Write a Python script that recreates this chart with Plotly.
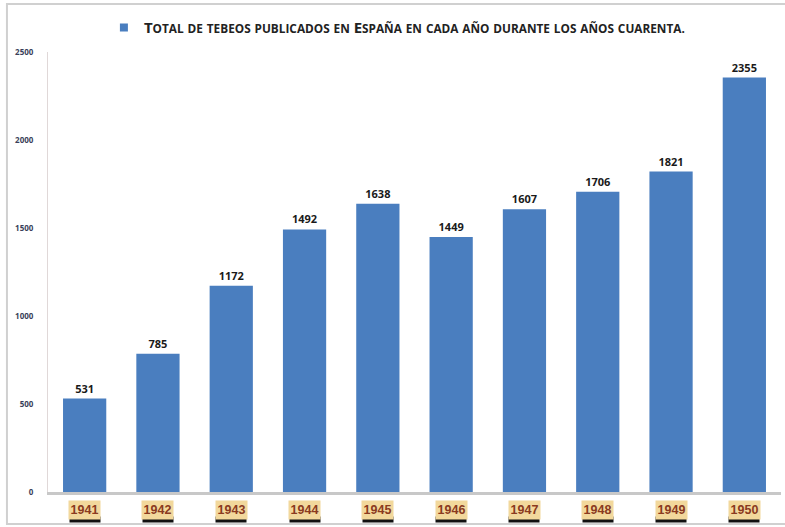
import plotly.graph_objects as go

years = ["1941", "1942", "1943", "1944", "1945", "1946", "1947", "1948", "1949", "1950"]
values = [531, 785, 1172, 1492, 1638, 1449, 1607, 1706, 1821, 2355]
y_ticks = [0, 500, 1000, 1500, 2000, 2500]
title_text = "Total de tebeos publicados en España en cada año durante los años cuarenta."


def small_caps(text, small=11.8):
    out = []
    for ch in text:
        if ch.isupper() or ch == " ":
            out.append(ch)
        else:
            out.append("<span style='font-size:%spx'>%s</span>" % (small, ch.upper()))
    s = "".join(out).replace("</span><span style='font-size:%spx'>" % small, "")
    return "<b>" + s + "</b>"


series_name = small_caps(title_text)
bar_color = "#4a7ebf"

fig = go.Figure()
fig.add_trace(go.Bar(
    x=years, y=values, name=series_name,
    marker=dict(color=bar_color, line=dict(width=0)),
    width=0.59,
    text=["<b>%d</b>" % v for v in values], textposition="outside",
    textfont=dict(family="Open Sans", size=11, color="#1a1a1a"),
    cliponaxis=False, showlegend=False,
))
# legend entry with a small square swatch
fig.add_trace(go.Scatter(
    x=[None], y=[None], mode="markers", name=series_name,
    marker=dict(symbol="square", size=8, color=bar_color), showlegend=True,
))

# tan year labels with dark shadow underneath
for i, yr in enumerate(years):
    fig.add_annotation(x=i, y=0, xref="x", yref="paper", yanchor="top",
                       yshift=-24, text=" ", showarrow=False,
                       bgcolor="#111111", width=30, height=5, borderpad=0,
                       font=dict(size=4))
    fig.add_annotation(x=i, y=0, xref="x", yref="paper", yanchor="top",
                       yshift=-8, text="<b>%s</b>" % yr, showarrow=False,
                       bgcolor="#f2d89c", width=29, height=16, borderpad=1,
                       font=dict(family="Liberation Sans Narrow, Liberation Sans", size=12.5,
                                 color="#8a3a20"))

fig.update_layout(
    width=785, height=527,
    margin=dict(l=48, r=4, t=52, b=35),
    paper_bgcolor="white", plot_bgcolor="white",
    showlegend=True,
    legend=dict(orientation="h", x=0.476, xanchor="center", y=1.055, yanchor="middle",
                font=dict(family="Open Sans", size=15, color="#222222"),
                bgcolor="rgba(0,0,0,0)", itemwidth=30),
    xaxis=dict(type="category", showticklabels=False, showline=True, linecolor="#c8c8c8",
               linewidth=3, ticks="", range=[-0.5, 9.5]),
    yaxis=dict(range=[0, 2500], tickvals=y_ticks, ticktext=["<b>%d</b>" % v for v in y_ticks],
               showgrid=False, zeroline=False, showline=True, linecolor="#e0d8d8",
               linewidth=1, ticks="", ticklabelstandoff=12,
               tickfont=dict(family="Open Sans", size=8, color="#3a3f5a")),
    shapes=[dict(type="rect", xref="paper", yref="paper", x0=-0.056, x1=1.02,
                 y0=-0.073, y1=1.109, line=dict(color="#d0d0d0", width=2),
                 fillcolor="rgba(0,0,0,0)", layer="below")],
)

fig.write_html("out.html", config={"displayModeBar": False},
               post_script="document.body.style.margin='0px';")
